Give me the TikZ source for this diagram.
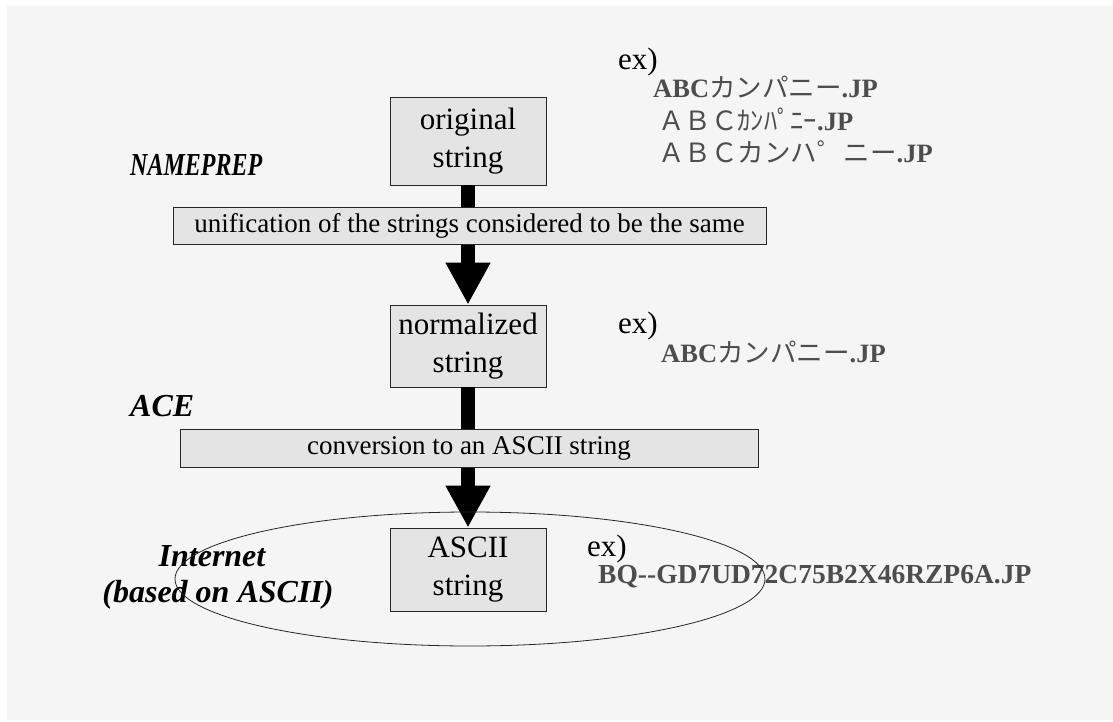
\documentclass[tikz,border=0pt]{standalone}
\usepackage{fontspec}
\setmainfont{Liberation Serif}
\newfontfamily\jpfont{Noto Sans CJK JP}
\usetikzlibrary{arrows.meta,shapes.geometric}
\definecolor{bgcol}{HTML}{F5F5F5}
\definecolor{boxcol}{HTML}{E4E4E4}
\definecolor{excol}{HTML}{4D4D4D}
\begin{document}
\begin{tikzpicture}[x=1pt,y=-1pt,
  stepbox/.style={draw=black!85, fill=boxcol, line width=0.8pt, minimum width=156pt,
    align=center, inner sep=0pt, font=\fontsize{31}{38}\selectfont},
  bar/.style={draw=black!85, fill=boxcol, line width=0.8pt, inner sep=0pt,
    font=\fontsize{27}{32}\selectfont},
  flow/.style={line width=14pt, -{Triangle[length=42pt,width=42pt]}},
  phase/.style={anchor=base west, inner sep=0pt, font=\fontsize{32}{38}\selectfont\bfseries\itshape},
  extag/.style={anchor=base west, inner sep=0pt, font=\fontsize{31}{36}\selectfont},
  sample/.style={anchor=base west, inner sep=0pt, text=excol, font=\fontsize{26.5}{30}\selectfont\bfseries}]

\useasboundingbox (0,0) rectangle (1113,722);
\fill[white] (0,0) rectangle (1113,722);
\fill[bgcol] (7,6) rectangle (1113,720);

% the three string stages
\node[stepbox, minimum height=88pt] (orig) at (468,141) {original\\string};
\node[stepbox, minimum height=82pt] (norm) at (468,346) {normalized\\string};
\node[stepbox, minimum height=83pt] (ascii) at (468,569.5) {ASCII\\string};

% flow arrows between the stages
\draw[flow] (orig.south) -- (norm.north);
\draw[flow] (norm.south) -- (ascii.north);

% processing bars laid over the arrows
\node[bar, minimum width=593pt, minimum height=37pt] (unify) at (469.5,225.5)
  {unification of the strings considered to be the same};
\node[bar, minimum width=578pt, minimum height=38pt] (conv) at (469,448)
  {conversion to an ASCII string};

% phase names
\node[phase] (nameprep) at (130,176) {\scalebox{0.75}[1]{NAMEPREP}};
\node[phase] (ace) at (130,416) {ACE};

% examples
\node[extag] (ex1) at (618,70) {ex)};
\node[sample] (s1) at (653,98) {ABC{\jpfont\mdseries カンパニー}.JP};
\node[sample] (s2) at (658,131) {{\jpfont\mdseries ＡＢＣｶﾝﾊﾟﾆｰ}.JP};
\node[sample] (s3) at (658,163) {{\jpfont\mdseries ＡＢＣカンハ゜ニー}.JP};

\node[extag] (ex2) at (618,333) {ex)};
\node[sample] (s4) at (661,362) {ABC{\jpfont\mdseries カンパニー}.JP};

\node[extag] (ex3) at (587,556) {ex)};
\node[sample, font=\fontsize{27.5}{31}\selectfont\bfseries] (s5) at (598,583)
  {BQ-{}-GD7UD72C75B2X46RZP6A.JP};

% the Internet domain
\node[anchor=base, inner sep=0pt, font=\fontsize{32}{38}\selectfont\bfseries\itshape]
  (inet) at (212,566) {Internet};
\node[anchor=base, inner sep=0pt, font=\fontsize{32}{38}\selectfont\bfseries\itshape]
  (inet2) at (218,602) {(based on ASCII)};
\node[draw=black!85, line width=0.8pt, ellipse, inner sep=0pt,
  minimum width=590pt, minimum height=134pt] (net) at (470,579) {};
\end{tikzpicture}
\end{document}
